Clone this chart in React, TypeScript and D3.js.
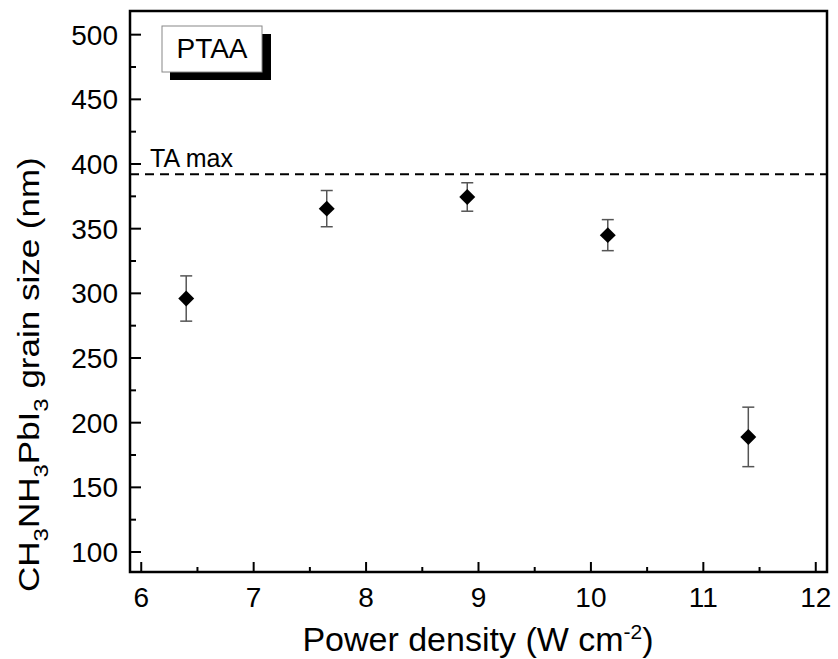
import React from "react";
import * as d3 from "d3";

const powerDensity = [6.4, 7.65, 8.9, 10.15, 11.4];
const grainSize = [296, 365.5, 374.5, 345, 189];
const grainError = [17.5, 14, 11, 12, 23];
const taMax = 392;
const xTicks = [6, 7, 8, 9, 10, 11, 12];
const yTicks = [100, 150, 200, 250, 300, 350, 400, 450, 500];

const W = 838;
const H = 659;
const left = 130, right = 827, top = 11, bottom = 572;

export default function App() {
  const x = d3.scaleLinear().domain([5.9, 12.1]).range([left, right]);
  const y = d3.scaleLinear().domain([84.55, 518.3]).range([bottom, top]);
  const xMinor = d3.range(6.5, 12, 1);
  const yMinor = d3.range(125, 500, 50);
  const font = "'Liberation Sans', Arial, sans-serif";
  const diamond = d3.symbol().type(d3.symbolDiamond2).size(2 * 9 * 9)();

  return (
    <svg width={W} height={H} style={{ position: "absolute", left: 0, top: 0, background: "#fff" }} fontFamily={font}>
      <rect x={0} y={0} width={W} height={H} fill="#fff" />
      {/* TA max line */}
      <line x1={left} x2={right} y1={y(taMax)} y2={y(taMax)} stroke="#000" strokeWidth={2} strokeDasharray="9,6" />
      <text x={150} y={166.5} fontSize={25}>TA max</text>

      {/* error bars */}
      {powerDensity.map((p, i) => (
        <g key={"e" + i} stroke="#555" strokeWidth={1.5}>
          <line x1={x(p)} x2={x(p)} y1={y(grainSize[i] - grainError[i])} y2={y(grainSize[i] + grainError[i])} />
          <line x1={x(p) - 6} x2={x(p) + 6} y1={y(grainSize[i] - grainError[i])} y2={y(grainSize[i] - grainError[i])} />
          <line x1={x(p) - 6} x2={x(p) + 6} y1={y(grainSize[i] + grainError[i])} y2={y(grainSize[i] + grainError[i])} />
        </g>
      ))}
      {powerDensity.map((p, i) => (
        <path key={"m" + i} d={diamond || ""} transform={`translate(${x(p)},${y(grainSize[i])})`} fill="#000" />
      ))}

      {/* ticks */}
      {xTicks.map((t) => (
        <g key={"xt" + t}>
          <line x1={x(t)} x2={x(t)} y1={bottom} y2={bottom - 10} stroke="#000" strokeWidth={2} />
          <text x={x(t)} y={607} fontSize={28} textAnchor="middle">{t}</text>
        </g>
      ))}
      {xMinor.map((t) => (
        <line key={"xm" + t} x1={x(t)} x2={x(t)} y1={bottom} y2={bottom - 5} stroke="#000" strokeWidth={2} />
      ))}
      {yTicks.map((t) => (
        <g key={"yt" + t}>
          <line x1={left} x2={left + 11} y1={y(t)} y2={y(t)} stroke="#000" strokeWidth={2} />
          <text x={left - 12} y={y(t) + 10} fontSize={28} textAnchor="end">{t}</text>
        </g>
      ))}
      {yMinor.map((t) => (
        <line key={"ym" + t} x1={left} x2={left + 6} y1={y(t)} y2={y(t)} stroke="#000" strokeWidth={2} />
      ))}

      {/* frame */}
      <rect x={left} y={top} width={right - left} height={bottom - top} fill="none" stroke="#000" strokeWidth={2.5} />

      {/* PTAA label box */}
      <rect x={170} y={34} width={101} height={46} fill="#000" />
      <rect x={162} y={26} width={100} height={46} fill="#fff" stroke="#888" strokeWidth={1} />
      <text x={212} y={58} fontSize={28} textAnchor="middle">PTAA</text>

      {/* axis labels */}
      <text x={478} y={651} fontSize={34} textAnchor="middle">
        Power density (W cm<tspan dy={-12} fontSize={21}>-2</tspan><tspan dy={12}>)</tspan>
      </text>
      <text transform={`translate(39,592) rotate(-90) scale(1,0.85)`} fontSize={35} textAnchor="start">
        CH<tspan dy={10} fontSize={24}>3</tspan><tspan dy={-10}>NH</tspan><tspan dy={10} fontSize={24}>3</tspan><tspan dy={-10}>PbI</tspan><tspan dy={10} fontSize={24}>3</tspan><tspan dy={-10}> grain size (nm)</tspan>
      </text>
    </svg>
  );
}
